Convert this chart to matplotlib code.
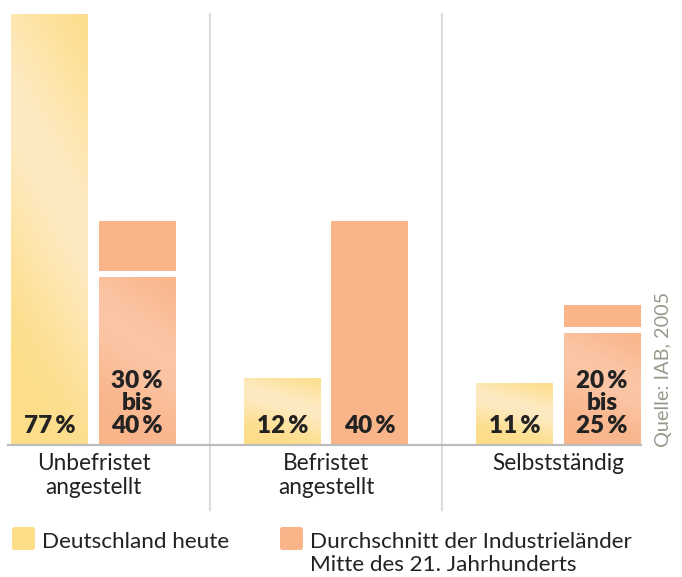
import numpy as np
import matplotlib.pyplot as plt
from matplotlib.colors import LinearSegmentedColormap
from matplotlib.patches import FancyBboxPatch

plt.rcParams['font.family'] = ['Lato', 'DejaVu Sans']

# data
categories = ['Unbefristet\nangestellt', 'Befristet\nangestellt', 'Selbstständig']
de_heute = [77, 12, 11]
ind_low = [30, 40, 20]
ind_high = [40, 40, 25]
de_labels = ['77\u2009%', '12\u2009%', '11\u2009%']
ind_labels = ['30\u2009%\nbis\n40\u2009%', '40\u2009%', '20\u2009%\nbis\n25\u2009%']
legend_labels = ['Deutschland heute', 'Durchschnitt der Industrieländer\nMitte des 21. Jahrhunderts']
source = 'Quelle: IAB, 2005'

yellow_dark, yellow_light = '#fddd88', '#feeac2'
salmon_dark, salmon_light = '#f9b48a', '#fbc6a6'

W, H = 682, 577
fig = plt.figure(figsize=(W / 100, H / 100), dpi=100)
# axes: baseline from x=8..641 px, y from 14..445 px (top origin)
ax = fig.add_axes([8 / W, 1 - 445 / H, (641 - 8) / W, (445 - 14) / H])
ax.set_xlim(-0.3677, 2.355)
ax.set_ylim(0, 77)
ax.axis('off')

x = np.arange(len(categories))
bw = 0.331
off = 0.188
gap = 1.0


def grad_fill(bar, c_dark, c_light):
    cmap = LinearSegmentedColormap.from_list('g', [c_dark, c_light])
    xx, yy = np.meshgrid(np.linspace(0, 1, 60), np.linspace(0, 1, 200))
    # yy=0 at top of image
    s = yy * 0.8 + (1 - xx) * 0.25
    z = np.exp(-((s - 0.42) / 0.28) ** 2)
    bx, by = bar.get_x(), bar.get_y()
    w, h = bar.get_width(), bar.get_height()
    im = ax.imshow(z, cmap=cmap, vmin=0, vmax=1, aspect='auto',
                   extent=[bx, bx + w, by, by + h], origin='upper', zorder=2)
    im.set_clip_path(bar)


bars_de = ax.bar(x - off, de_heute, bw, color=yellow_dark, zorder=1, linewidth=0)
bars_ind = ax.bar(x + off, ind_low, bw, color=salmon_dark, zorder=1, linewidth=0)
for b in bars_de:
    grad_fill(b, yellow_dark, yellow_light)
for i, b in enumerate(bars_ind):
    if ind_high[i] > ind_low[i]:
        grad_fill(b, salmon_dark, salmon_light)

# upper part of range
for i in range(len(categories)):
    if ind_high[i] > ind_low[i]:
        ax.bar(x[i] + off, ind_high[i] - ind_low[i] - gap, bw, bottom=ind_low[i] + gap,
               color=salmon_dark, linewidth=0, zorder=1)

# value labels
for i in range(len(categories)):
    ax.text(x[i] - off, 1.5, de_labels[i], ha='center', va='bottom', fontsize=17.5,
            fontweight='heavy', color='#222222', zorder=5)
    ax.text(x[i] + off, 1.5, ind_labels[i], ha='center', va='bottom', fontsize=17.5,
            fontweight='heavy', color='#222222', linespacing=1.02, zorder=5)

# baseline and separators
ax.axhline(0, color='#bdbdbd', lw=1.6, zorder=6, clip_on=False)
for s in [0.5, 1.5]:
    ax.axvline(s, ymin=-65 / 431, ymax=1, color='#dddddd', lw=1.6, clip_on=False, zorder=0)

# category labels
for i, c in enumerate(categories):
    ax.text(x[i], -1.5, c, ha='center', va='top', fontsize=16.3, color='#222222',
            linespacing=1.16)

# source
fig.text(663 / W, 1 - 447 / H, source, rotation=90, ha='center', va='bottom',
         fontsize=14.3, color='#9a978c')

# legend
for xs, c, lab in [(12, yellow_dark, legend_labels[0]), (280, salmon_dark, legend_labels[1])]:
    p = FancyBboxPatch((xs / W, 1 - 550 / H), 23 / W, 23 / H,
                       boxstyle='round,pad=0,rounding_size=0.004',
                       transform=fig.transFigure, color=c, linewidth=0)
    fig.patches.append(p)
    fig.text((xs + 30) / W, 1 - 532 / H, lab, ha='left', va='top', fontsize=16.2,
             color='#222222', linespacing=1.18)

fig.savefig('out.png', dpi=100)
